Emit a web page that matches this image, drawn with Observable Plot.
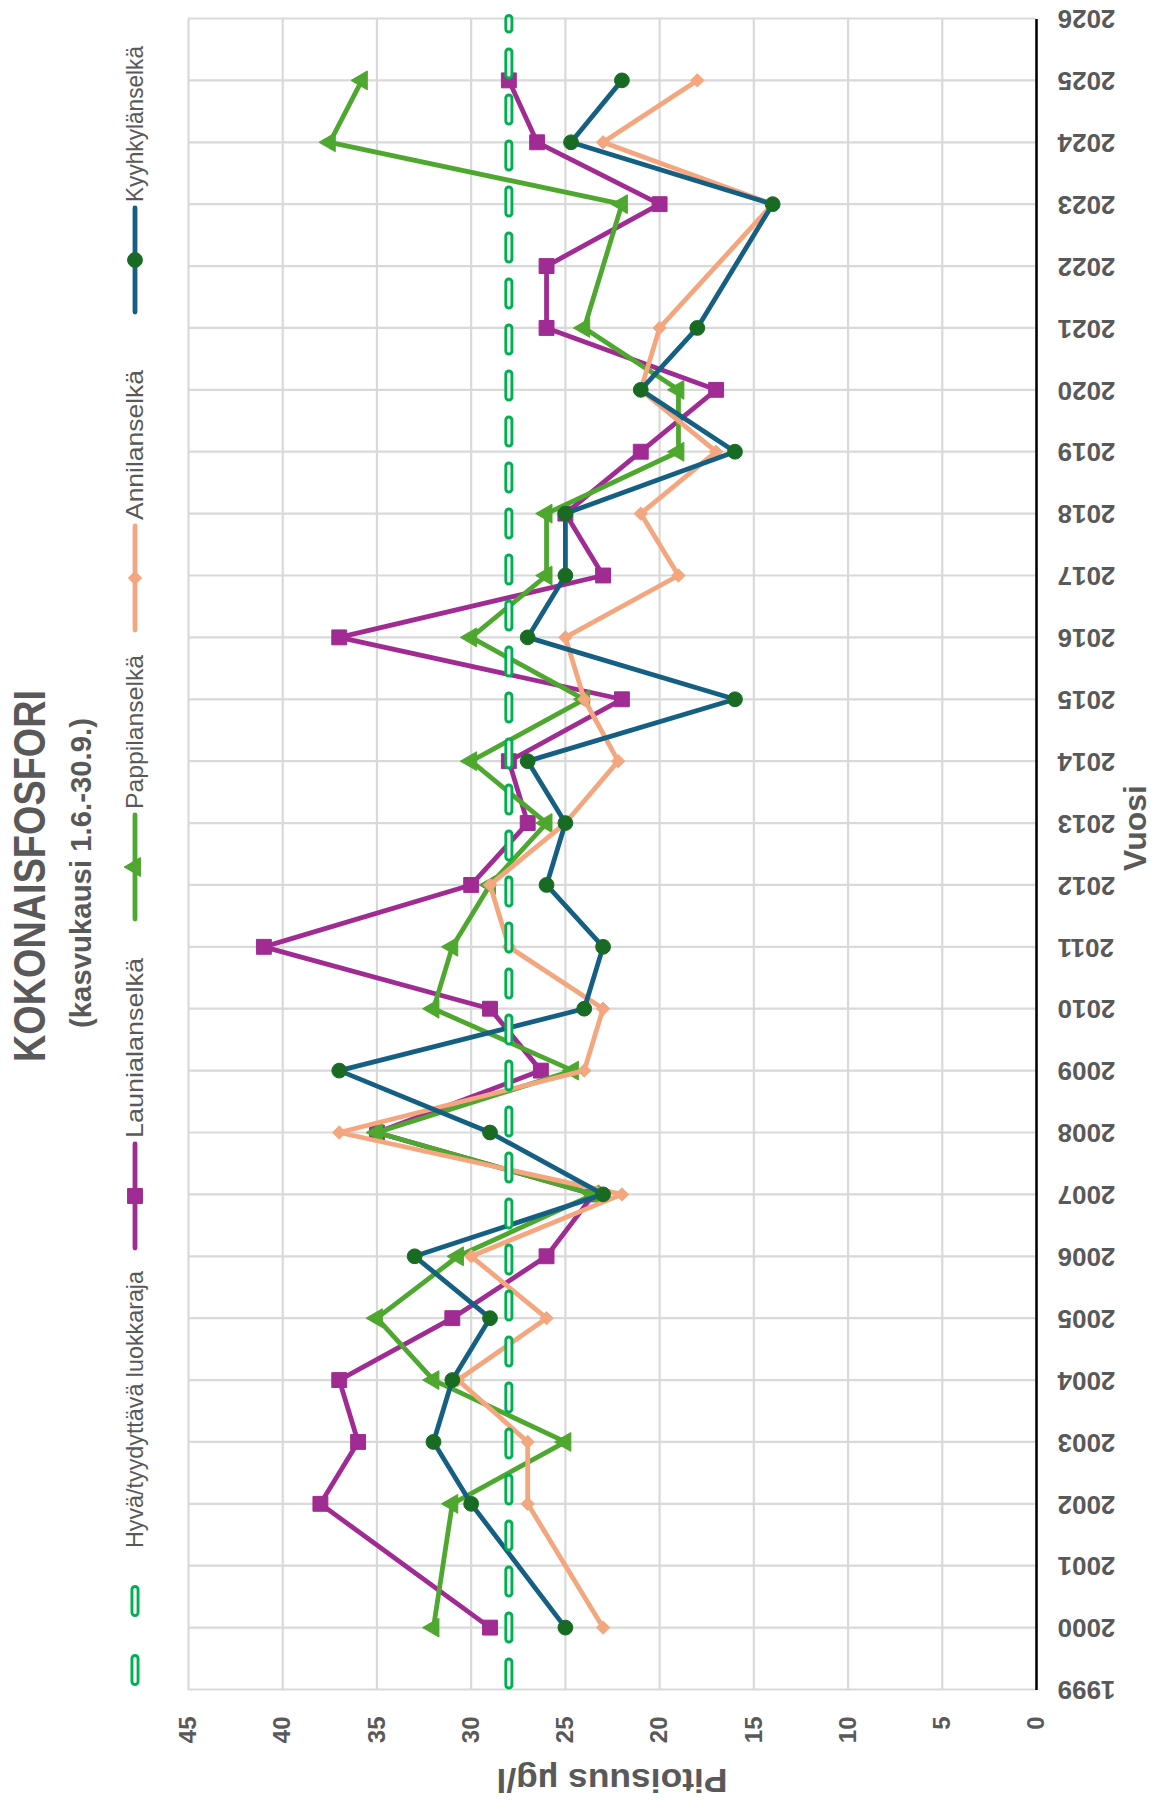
<!DOCTYPE html>
<html><head><meta charset="utf-8">
<script src="https://cdn.jsdelivr.net/npm/d3@7"></script>
<script src="https://cdn.jsdelivr.net/npm/@observablehq/plot@0.6"></script>
<style>
html,body{margin:0;padding:0;background:#fff;}
body{width:1155px;height:1811px;overflow:hidden;position:relative;}
#rot{position:absolute;left:0;top:0;width:1811px;height:1155px;transform-origin:0 0;transform:translate(0px,1811px) rotate(-90deg);background:#fff;}
#head{position:absolute;left:0;top:0;}
#chart{position:absolute;left:0;top:160px;}
</style></head><body>
<div id="rot"><svg id="head" width="1811" height="160"></svg><div id="chart"></div></div>
<script>
// ---- data ----
const titleText = "KOKONAISFOSFORI";
const subtitleText = "(kasvukausi 1.6.-30.9.)";
const xLabel = "Vuosi";
const yLabel = "Pitoisuus µg/l";
const years = [2000,2001,2002,2003,2004,2005,2006,2007,2008,2009,2010,2011,2012,2013,2014,2015,2016,2017,2018,2019,2020,2021,2022,2023,2024,2025];
const kyyhkylanselka = [25,null,30,32,31,29,33,23,29,37,24,23,26,25,27,16,27,25,25,16,21,18,null,14,24.7,22];
const annilanselka   = [23,null,27,27,30.7,26,30,22,37,24,23,28,29,25,22.2,24,25,19,21,17,21,20,null,14,23,18];
const pappilanselka  = [32,null,31,25,32,35,30.7,23.5,35,24.6,32,31,29,26,30,24,30,26,26,19,19,24,null,22,37.5,35.8];
const launialanselka = [29,null,38,36,37,31,26,23.5,35,26.3,29,41,30,27,28,22,37,23,25,21,17,26,26,20,26.5,28];
const thresholdYears = [1999, 2026];
const thresholdValue = 28;
const yearTicks = [1999,2000,2001,2002,2003,2004,2005,2006,2007,2008,2009,2010,2011,2012,2013,2014,2015,2016,2017,2018,2019,2020,2021,2022,2023,2024,2025,2026];
const valueTicks = [0,5,10,15,20,25,30,35,40,45];
const seriesNames = ["Hyvä/tyydyttävä luokkaraja","Launialanselkä","Pappilanselkä","Annilanselkä","Kyyhkylänselkä"];

// ---- styles ----
const TXT = "#595959";
const FONT = "'Liberation Sans', Arial, sans-serif";
const styles = {
  "Launialanselkä": {line: "#A02B93", marker: "#A02B93", symbol: "square", r: 8.4},
  "Pappilanselkä": {line: "#4EA72E", marker: "#4EA72E", symbol: "triangle", r: 7},
  "Annilanselkä": {line: "#F4A67F", marker: "#F4A67F", symbol: "diamond2", r: 6},
  "Kyyhkylänselkä": {line: "#156082", marker: "#196B24", symbol: "circle", r: 7.4}
};
const TH = "#00B050";

const seriesData = {
  "Launialanselkä": launialanselka,
  "Pappilanselkä": pappilanselka,
  "Annilanselkä": annilanselka,
  "Kyyhkylänselkä": kyyhkylanselka
};
function rows(name) {
  return years.map((yr, i) => ({year: yr, value: seriesData[name][i]})).filter(d => d.value != null);
}
const thRows = thresholdYears.map(yr => ({year: yr, value: thresholdValue}));

const seriesMarks = [];
for (const name of ["Launialanselkä","Pappilanselkä","Annilanselkä","Kyyhkylänselkä"]) {
  const s = styles[name];
  const data = rows(name);
  seriesMarks.push(Plot.line(data, {x: "year", y: "value", stroke: s.line, strokeWidth: 4.8, strokeLinejoin: "round", strokeLinecap: "round"}));
  seriesMarks.push(Plot.dot(data, {x: "year", y: "value", symbol: s.symbol, r: s.r, fill: s.marker, stroke: s.marker, strokeWidth: 1}));
}

const plot = Plot.plot({
  width: 1811, height: 995,
  marginTop: 28, marginBottom: 119, marginLeft: 121, marginRight: 19,
  style: {fontFamily: FONT, background: "white", overflow: "visible"},
  x: {domain: [1999, 2026]},
  y: {domain: [0, 45]},
  marks: [
    Plot.gridX(yearTicks, {stroke: "#d9d9d9", strokeOpacity: 1, strokeWidth: 2.2}),
    Plot.gridY(valueTicks, {stroke: "#d9d9d9", strokeOpacity: 1, strokeWidth: 2.2}),
    Plot.axisX(yearTicks, {tickSize: 0, tickPadding: 21, tickRotate: -90, tickFormat: d => String(d), fontSize: 26, fontWeight: "bold", fill: TXT, label: null}),
    Plot.axisY(valueTicks, {tickSize: 0, tickPadding: 27, fontSize: 24, fontWeight: "bold", fill: TXT, label: null}),
    Plot.ruleY([0], {stroke: "#000", strokeWidth: 2.5}),
    ...seriesMarks,
    Plot.line(thRows, {x: "year", y: "value", stroke: TH, strokeWidth: 9, strokeLinecap: "round", strokeDasharray: "23,23", strokeDashoffset: -4.5}),
    Plot.line(thRows, {x: "year", y: "value", stroke: "#fff", strokeWidth: 3.2, strokeLinecap: "round", strokeDasharray: "23,23", strokeDashoffset: -4.5})
  ]
});
document.getElementById("chart").appendChild(plot);

// axis titles
const psvg = d3.select(plot);
psvg.append("text").attr("transform", "translate(42,452) rotate(-90)").attr("text-anchor", "middle")
  .attr("font-family", FONT).attr("font-size", 33).attr("font-weight", "bold").attr("fill", TXT)
  .attr("textLength", 231).attr("lengthAdjust", "spacingAndGlyphs").text(yLabel);
psvg.append("text").attr("x", 983).attr("y", 986).attr("text-anchor", "middle")
  .attr("font-family", FONT).attr("font-size", 32).attr("font-weight", "bold").attr("fill", TXT).text(xLabel);

// header: title, subtitle, legend
const head = d3.select("#head");
head.append("text").attr("x", 935).attr("y", 45).attr("text-anchor", "middle")
  .attr("font-family", FONT).attr("font-size", 44).attr("font-weight", "bold").attr("fill", TXT)
  .attr("textLength", 372).attr("lengthAdjust", "spacingAndGlyphs").text(titleText);
head.append("text").attr("x", 938).attr("y", 91).attr("text-anchor", "middle")
  .attr("font-family", FONT).attr("font-size", 30).attr("font-weight", "bold").attr("fill", TXT)
  .attr("textLength", 310).attr("lengthAdjust", "spacingAndGlyphs").text(subtitleText);

const legendTextX = [263, 673, 1002, 1291, 1609];
const legendTextLen = [277, 180, 154, 150, 156];
const LY = 135;
const symMap = {square: d3.symbolSquare, triangle: d3.symbolTriangle, diamond2: d3.symbolDiamond2, circle: d3.symbolCircle};
seriesNames.forEach((name, i) => {
  const tx = legendTextX[i];
  const x1 = tx - 6, x0 = tx - 110;
  if (i === 0) {
    const lx0 = 129.5, lx1 = 224.5;
    head.append("line").attr("x1", lx0).attr("x2", lx1).attr("y1", LY).attr("y2", LY)
      .attr("stroke", TH).attr("stroke-width", 9).attr("stroke-linecap", "round").attr("stroke-dasharray", "23,46");
    head.append("line").attr("x1", lx0).attr("x2", lx1).attr("y1", LY).attr("y2", LY)
      .attr("stroke", "#fff").attr("stroke-width", 3.2).attr("stroke-linecap", "round").attr("stroke-dasharray", "23,46");
  } else {
    const s = styles[name];
    head.append("line").attr("x1", x0).attr("x2", x1).attr("y1", LY).attr("y2", LY)
      .attr("stroke", s.line).attr("stroke-width", 4.8).attr("stroke-linecap", "round");
    head.append("path").attr("transform", `translate(${(x0 + x1) / 2},${LY})`)
      .attr("d", d3.symbol(symMap[s.symbol], Math.PI * s.r * s.r)())
      .attr("fill", s.marker).attr("stroke", s.marker);
  }
  head.append("text").attr("x", tx).attr("y", 143).attr("font-family", FONT).attr("font-size", 24)
    .attr("fill", TXT).attr("textLength", legendTextLen[i]).attr("lengthAdjust", "spacingAndGlyphs").text(name);
});
</script>
</body></html>
